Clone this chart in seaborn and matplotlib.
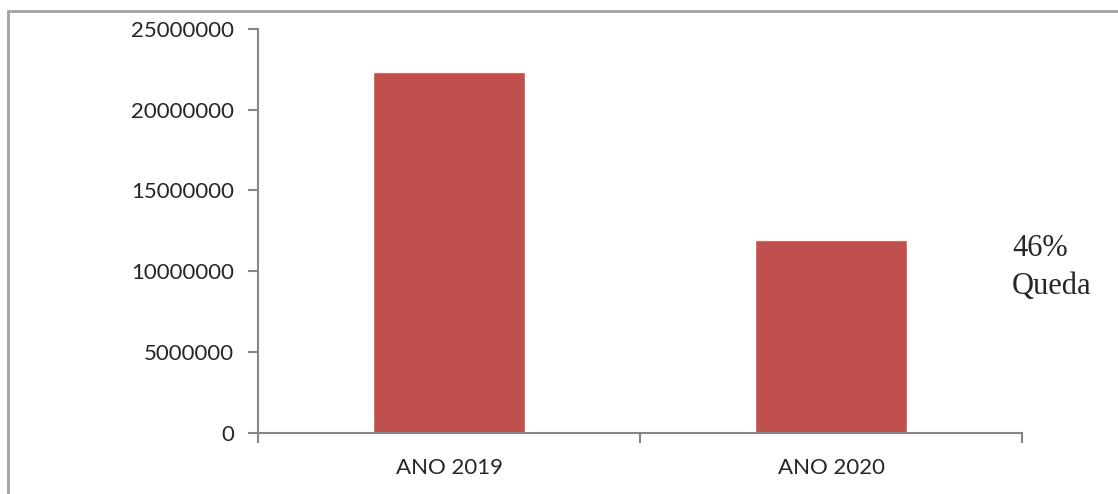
import matplotlib
matplotlib.use("Agg")
import matplotlib.pyplot as plt
import seaborn as sns
import pandas as pd
from matplotlib.patches import Rectangle

# ==============================
# DADOS
# ==============================

anos = ["ANO 2019", "ANO 2020"]
valores = [22330000, 11930000]
yticks = [0, 5000000, 10000000, 15000000, 20000000, 25000000]
nota = "46%\nQueda"

df = pd.DataFrame({"ano": anos, "valor": valores})

# ==============================
# FIGURA
# ==============================

sns.set_theme(style="white")
plt.rcParams["font.family"] = ["Lato", "DejaVu Sans"]

cinza = "#868686"
vermelho = "#C0504D"

fig = plt.figure(figsize=(11.18, 4.94), dpi=100)
ax = fig.add_axes([258 / 1118, 1 - 432.7 / 494, (1022 - 258) / 1118, (432.7 - 29) / 494])

sns.barplot(data=df, x="ano", y="valor", color=vermelho, saturation=1, width=0.4, ax=ax)

ax.set_xlim(-0.5, 1.5)
ax.set_ylim(0, 25000000)
ax.set_yticks(yticks)
ax.set_yticklabels([str(v) for v in yticks], fontsize=16)
ax.set_xlabel("")
ax.set_ylabel("")

# ticks do eixo x nas fronteiras das categorias
ax.set_xticks([0, 1])
ax.set_xticklabels(anos, fontsize=16)
ax.set_xticks([-0.5, 0.5, 1.5], minor=True)
ax.tick_params(axis="x", which="major", bottom=True, length=0, pad=18)
ax.tick_params(axis="x", which="minor", bottom=True, length=7, width=1.5, color=cinza, direction="out")
ax.tick_params(axis="y", left=True, length=7, width=1.5, color=cinza, direction="out", pad=10)

for lado in ["top", "right"]:
    ax.spines[lado].set_visible(False)
for lado in ["left", "bottom"]:
    ax.spines[lado].set_color(cinza)
    ax.spines[lado].set_linewidth(1.5)

# borda da área do gráfico (só esquerda e topo visíveis)
fig.patches.append(Rectangle((8 / 1118, -0.1), 1.2, 1 - 11 / 494 + 0.1,
                             transform=fig.transFigure, fill=False,
                             edgecolor="#A0A0A0", linewidth=2))

fig.text(1012 / 1118, 1 - 234 / 494, nota, fontsize=22, va="top", ha="left",
         family=["Liberation Serif", "DejaVu Serif"], linespacing=1.4)

fig.savefig("out.png", dpi=100)
